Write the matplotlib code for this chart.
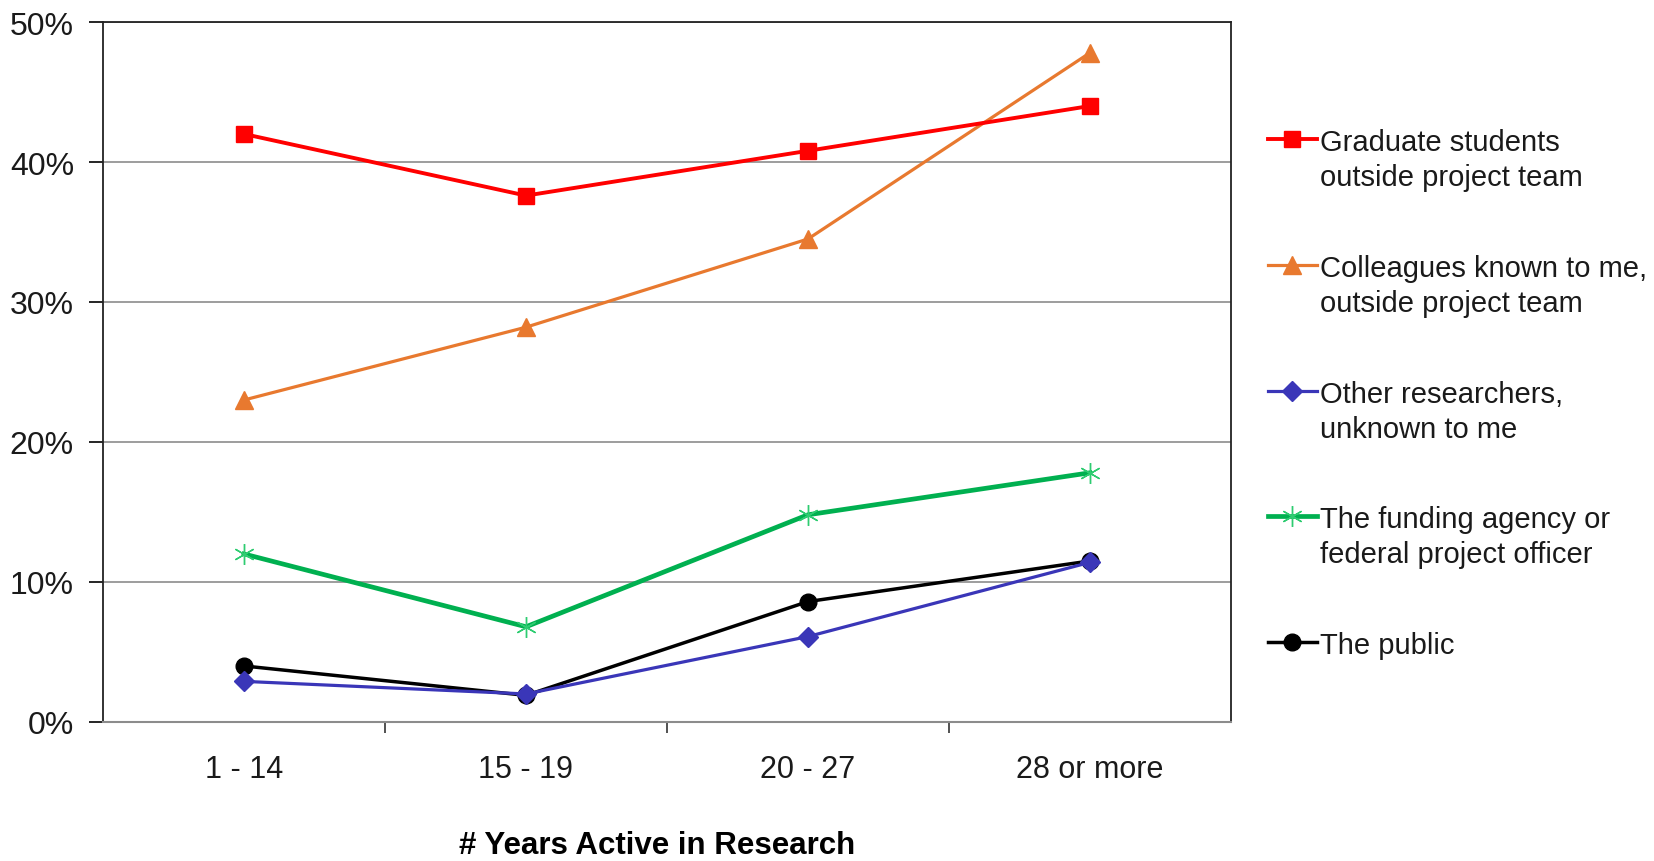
import matplotlib.pyplot as plt
from matplotlib.lines import Line2D
from matplotlib.ticker import MultipleLocator, PercentFormatter

plt.rcParams["font.family"] = ["Liberation Sans", "DejaVu Sans"]

# share of respondents (%) by years active in research
categories = ["1 - 14", "15 - 19", "20 - 27", "28 or more"]
grad_students = [42.0, 37.6, 40.8, 44.0]
colleagues = [23.0, 28.2, 34.5, 47.8]
other_researchers = [2.9, 2.0, 6.1, 11.4]
funding_agency = [12.0, 6.8, 14.8, 17.8]
the_public = [4.0, 1.9, 8.6, 11.5]

series = [
    ("Graduate students\noutside project team", grad_students,
     dict(color="#FF0000", lw=2.8, marker="s", ms=11)),
    ("Colleagues known to me,\noutside project team", colleagues,
     dict(color="#E8792F", lw=2.3, marker="^", ms=13)),
    ("Other researchers,\nunknown to me", other_researchers,
     dict(color="#3A36B8", lw=2.3, marker="D", ms=10.5)),
    ("The funding agency or\nfederal project officer", funding_agency,
     dict(color="#00B050", lw=3.4, marker=(6, 2, 0), ms=15, mew=1.0,
          mec="#2ECC71")),
    ("The public", the_public,
     dict(color="#000000", lw=2.5, marker="o", ms=12)),
]

fig = plt.figure(figsize=(16.54, 8.62), dpi=100)
ax = fig.add_axes([0.0623, 0.1613, 0.6819, 0.8120])

x = range(len(categories))
# draw in reverse so the top series sits on top
for label, vals, style in reversed(series):
    ax.plot(x, vals, **style, zorder=3)

ax.set_xlim(-0.5, len(categories) - 0.5)
ax.set_ylim(0, 50)
ax.yaxis.set_major_locator(MultipleLocator(10))
ax.yaxis.set_major_formatter(PercentFormatter(decimals=0))
ax.grid(axis="y", color="#8C8C8C", lw=1.2, zorder=1)

ax.set_xticks(list(x))
ax.set_xticklabels(categories)
ax.set_xticks([i + 0.5 for i in range(len(categories) - 1)], minor=True)
ax.tick_params(axis="x", which="major", length=0, pad=23, labelsize=22,
               labelcolor="#1A1A1A")
ax.tick_params(axis="x", which="minor", length=8, width=1.2, color="#333333",
               direction="out")
ax.tick_params(axis="y", length=10, width=1.2, pad=11, labelsize=23,
               labelcolor="#1A1A1A")

for side in ["left", "right", "top"]:
    ax.spines[side].set_color("#222222")
    ax.spines[side].set_linewidth(1.3)
ax.spines["bottom"].set_color("#8C8C8C")
ax.spines["bottom"].set_linewidth(1.5)

fig.text(0.397, 0.019, "# Years Active in Research", ha="center",
         va="center", fontsize=22.5, fontweight="bold")

# legend on the right, handle aligned with the first text line
W, H = 1654, 862
y0, step, line_gap = 140, 125.8, 35
for i, (label, vals, style) in enumerate(series):
    yy = 1 - (y0 + i * step) / H
    fig.add_artist(Line2D([1268 / W, 1292 / W, 1317 / W], [yy, yy, yy],
                          transform=fig.transFigure, markevery=[1], **style))
    for j, text_line in enumerate(label.split("\n")):
        fig.text(1320 / W, yy - j * line_gap / H, text_line, ha="left",
                 va="center_baseline", fontsize=21, color="#1A1A1A")

fig.savefig("out.png", dpi=100)
